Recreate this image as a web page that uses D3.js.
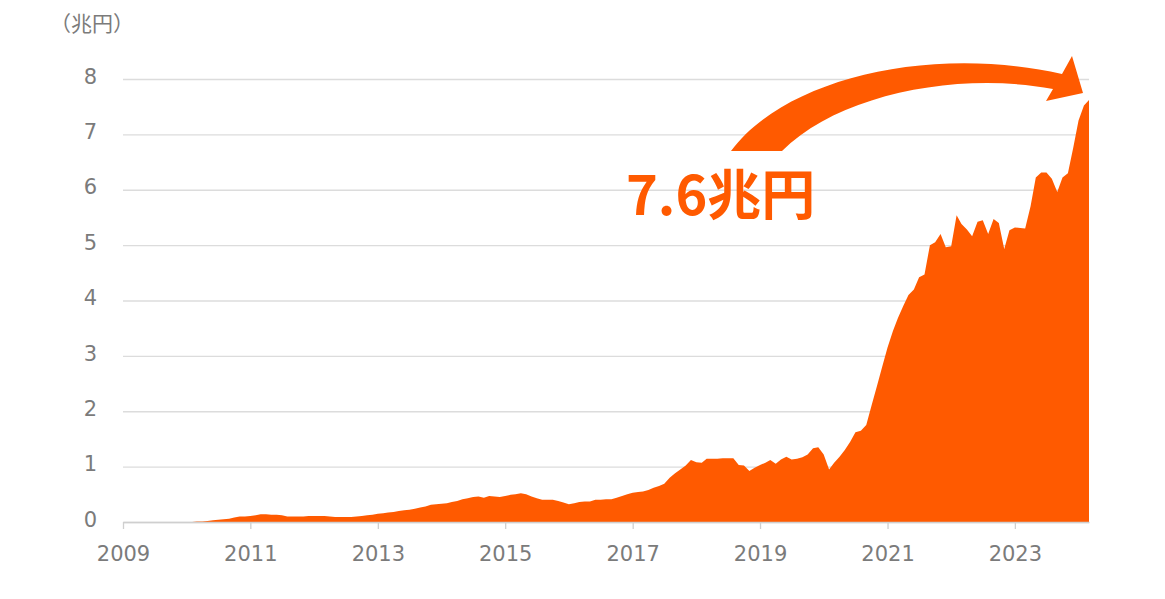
<!DOCTYPE html>
<html>
<head>
<meta charset="utf-8">
<script src="https://cdn.jsdelivr.net/npm/d3@7"></script>
<style>
  html, body { margin: 0; padding: 0; background: #fff; }
</style>
</head>
<body>
<div id="chart"></div>
<script>
// monthly series, first value is Feb 2010
const startMonth = "2010-02";
const values = [
  0.00, 0.01, 0.01, 0.02, 0.03, 0.04, 0.05, 0.06, 0.08, 0.10, 0.10,
  0.11, 0.12, 0.14, 0.14, 0.13, 0.13, 0.12, 0.10, 0.10, 0.10, 0.10, 0.11,
  0.11, 0.11, 0.11, 0.10, 0.09, 0.09, 0.09, 0.09, 0.10, 0.11, 0.12, 0.13,
  0.15, 0.16, 0.17, 0.18, 0.20, 0.21, 0.22, 0.24, 0.26, 0.28, 0.31, 0.32,
  0.33, 0.34, 0.36, 0.38, 0.41, 0.43, 0.45, 0.46, 0.44, 0.47, 0.46, 0.45,
  0.47, 0.49, 0.50, 0.52, 0.50, 0.46, 0.43, 0.40, 0.40, 0.40, 0.38, 0.35,
  0.32, 0.34, 0.36, 0.37, 0.37, 0.40, 0.40, 0.41, 0.41, 0.44, 0.47, 0.50,
  0.53, 0.54, 0.55, 0.58, 0.62, 0.65, 0.69, 0.80, 0.88, 0.95, 1.02, 1.12,
  1.08, 1.07, 1.14, 1.14, 1.14, 1.15, 1.15, 1.15, 1.03, 1.02, 0.92, 0.98,
  1.03, 1.07, 1.12, 1.05, 1.13, 1.18, 1.13, 1.14, 1.17, 1.22, 1.33, 1.35,
  1.22, 0.95, 1.07, 1.18, 1.30, 1.45, 1.62, 1.65, 1.75, 2.10, 2.45, 2.80,
  3.15, 3.45, 3.68, 3.90, 4.10, 4.20, 4.42, 4.47, 5.00, 5.05, 5.20, 4.96,
  4.98, 5.54, 5.38, 5.28, 5.16, 5.42, 5.45, 5.20, 5.47, 5.40, 4.93, 5.27,
  5.32, 5.31, 5.30, 5.70, 6.22, 6.31, 6.31, 6.20, 5.96, 6.22, 6.30, 6.75,
  7.25, 7.52, 7.62
];
const yearTicks = ["2009", "2011", "2013", "2015", "2017", "2019", "2021", "2023"];
const valueTicks = [0, 1, 2, 3, 4, 5, 6, 7, 8];
const unitLabel = "（兆円）";

const width = 1165;
const height = 599;
const margin = { top: 79, right: 75, bottom: 77, left: 123 };
const orange = "#ff5a00";
const grey = "#7b7b7b";

const parseMonth = d3.timeParse("%Y-%m");
const parseYear = d3.timeParse("%Y");
const first = parseMonth(startMonth);
const data = values.map((v, i) => ({ date: d3.timeMonth.offset(first, i), value: v }));
const last = data[data.length - 1];

const svg = d3.select("#chart")
  .append("svg")
  .attr("width", width)
  .attr("height", height)
  .attr("viewBox", [0, 0, width, height]);

const x = d3.scaleTime()
  .domain([parseYear("2009"), last.date])
  .range([margin.left, width - margin.right - 1]);

const y = d3.scaleLinear()
  .domain([0, 8])
  .range([height - margin.bottom, margin.top]);

// grid + y labels
svg.append("g")
  .attr("transform", `translate(${margin.left},0)`)
  .call(d3.axisLeft(y).tickValues(valueTicks)
    .tickSize(-(x.range()[1] - margin.left))
    .tickPadding(26))
  .call(g => g.select(".domain").remove())
  .call(g => g.selectAll(".tick line").attr("stroke", "#dcdcdc").attr("stroke-width", 1.3))
  .call(g => g.selectAll(".tick text")
    .attr("fill", grey)
    .attr("font-size", 21)
    .attr("font-family", "'DejaVu Sans', Verdana, sans-serif")
    .attr("dy", "0.2em"));

// area
svg.append("path")
  .datum(data)
  .attr("fill", orange)
  .attr("d", d3.area()
    .x(d => x(d.date))
    .y0(y(0))
    .y1(d => y(d.value)));

// x axis
svg.append("g")
  .attr("transform", `translate(0,${y(0)})`)
  .call(d3.axisBottom(x)
    .tickValues(yearTicks.map(parseYear))
    .tickFormat(d3.timeFormat("%Y"))
    .tickSizeInner(7)
    .tickSizeOuter(0)
    .tickPadding(17))
  .call(g => g.select(".domain").attr("stroke", "#cfcfcf").attr("stroke-width", 1.3))
  .call(g => g.selectAll(".tick line").attr("stroke", "#cfcfcf").attr("stroke-width", 1.3))
  .call(g => g.selectAll(".tick text")
    .attr("fill", grey)
    .attr("font-size", 21)
    .attr("font-family", "'DejaVu Sans', Verdana, sans-serif"));

// unit label
svg.append("text")
  .attr("x", 92)
  .attr("y", 31)
  .attr("text-anchor", "middle")
  .attr("fill", grey)
  .attr("font-size", 21)
  .attr("font-family", "'Noto Sans CJK JP', sans-serif")
  .text(unitLabel);

// annotation arrow, anchored at the last point
const anchor = svg.append("g")
  .attr("transform", `translate(${x(last.date)},${y(last.value)})`);

anchor.append("path")
  .attr("fill", orange)
  .attr("d", "M-358,51 C-305,-21 -160,-56 -27,-26 L-17,-44 L-6,-7 L-43,1 L-36,-11 C-130,-29 -250,-6 -307,51 Z");

anchor.append("text")
  .attr("x", -463)
  .attr("y", 115)
  .attr("fill", orange)
  .attr("font-size", 54)
  .attr("font-weight", 700)
  .attr("font-family", "'Noto Sans CJK JP', sans-serif")
  .text(d3.format(".1f")(last.value) + "兆円");
</script>
</body>
</html>
